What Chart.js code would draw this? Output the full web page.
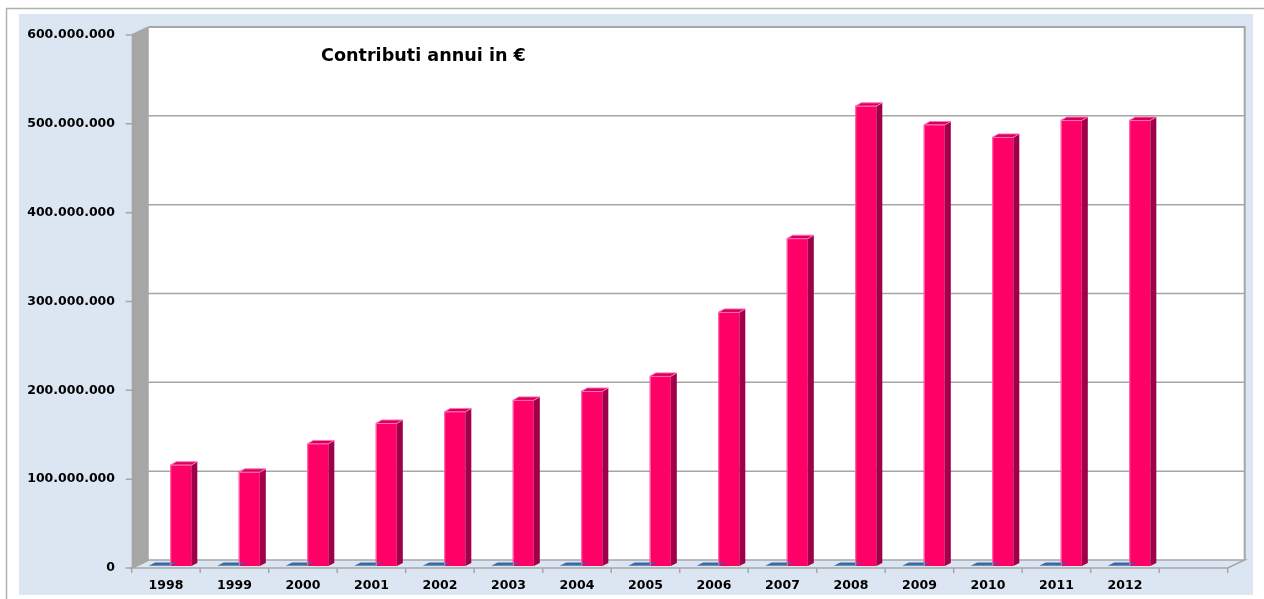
<!DOCTYPE html>
<html>
<head>
<meta charset="utf-8">
<script src="https://cdn.jsdelivr.net/npm/chart.js@4/dist/chart.umd.min.js"></script>
<style>
  html, body { margin: 0; padding: 0; background: #fff; }
  #wrap { width: 1264px; height: 599px; }
</style>
</head>
<body>
<div id="wrap"><canvas id="grafico" width="1264" height="599"></canvas></div>
<script>
// dati
const anni = ['1998', '1999', '2000', '2001', '2002', '2003', '2004', '2005', '2006', '2007', '2008', '2009', '2010', '2011', '2012', ''];
const contributi = [114e6, 106e6, 138e6, 161e6, 174e6, 187e6, 197e6, 214e6, 286e6, 369e6, 518e6, 497e6, 483e6, 502e6, 502e6, null];
const serieBlu = [0.5e6, 0.5e6, 0.5e6, 0.5e6, 0.5e6, 0.5e6, 0.5e6, 0.5e6, 0.5e6, 0.5e6, 0.5e6, 0.5e6, 0.5e6, 0.5e6, 0.5e6, null];
const tickValori = [0, 100e6, 200e6, 300e6, 400e6, 500e6, 600e6];
const titolo = 'Contributi annui in €';

// offset 3D: asse frontale e parete di fondo rispetto al piano delle barre
const FRONT = { dx: -4.3, dy: 2 };
const BACK = { dx: 12.7, dy: -6 };
const DEPTH = { dx: 6, dy: -3 };

function formatta(v) {
  return v.toString().replace(/\B(?=(\d{3})+(?!\d))/g, '.');
}

function poly(ctx, pts, fill, stroke) {
  ctx.beginPath();
  ctx.moveTo(pts[0][0], pts[0][1]);
  for (let i = 1; i < pts.length; i++) ctx.lineTo(pts[i][0], pts[i][1]);
  ctx.closePath();
  if (fill) { ctx.fillStyle = fill; ctx.fill(); }
  if (stroke) { ctx.strokeStyle = stroke; ctx.stroke(); }
}

const sfondo3d = {
  id: 'sfondo3d',
  beforeDraw(chart) {
    const ctx = chart.ctx;
    const a = chart.chartArea;
    const y = chart.scales.y;
    ctx.save();
    // pagina e cornice
    ctx.fillStyle = '#ffffff';
    ctx.fillRect(0, 0, chart.width, chart.height);
    ctx.strokeStyle = '#b0b0b0';
    ctx.lineWidth = 1.5;
    ctx.beginPath();
    ctx.moveTo(6.5, chart.height);
    ctx.lineTo(6.5, 8.5);
    ctx.lineTo(chart.width, 8.5);
    ctx.stroke();
    ctx.fillStyle = '#dce6f2';
    ctx.fillRect(19, 14, 1234, 581);

    const fl = a.left + FRONT.dx, fr = a.right + FRONT.dx;
    const bl = a.left + BACK.dx, br = a.right + BACK.dx;
    const y0 = y.getPixelForValue(0), yMax = y.getPixelForValue(600e6);

    // parete di fondo
    ctx.fillStyle = '#ffffff';
    ctx.fillRect(bl, yMax + BACK.dy, br - bl, y0 - yMax);
    ctx.lineWidth = 2;
    ctx.strokeStyle = '#a6a6a6';
    ctx.beginPath();
    ctx.moveTo(bl, yMax + BACK.dy);
    ctx.lineTo(br, yMax + BACK.dy);
    ctx.lineTo(br, y0 + BACK.dy);
    ctx.stroke();

    // parete sinistra
    poly(ctx, [[fl, yMax + FRONT.dy], [bl, yMax + BACK.dy], [bl, y0 + BACK.dy], [fl, y0 + FRONT.dy]], '#a6a6a6', null);

    // pavimento
    ctx.lineWidth = 1.5;
    poly(ctx, [[fl, y0 + FRONT.dy], [fr, y0 + FRONT.dy], [br, y0 + BACK.dy], [bl, y0 + BACK.dy]], '#dce6f2', '#a6a6a6');

    // griglia
    ctx.lineWidth = 1.5;
    ctx.strokeStyle = '#a6a6a6';
    tickValori.forEach(v => {
      const py = y.getPixelForValue(v);
      ctx.beginPath();
      ctx.moveTo(fl - 6, py + FRONT.dy);
      ctx.lineTo(fl, py + FRONT.dy);
      ctx.lineTo(bl, py + BACK.dy);
      if (v > 0 && v < 600e6) ctx.lineTo(br, py + BACK.dy);
      ctx.stroke();
    });

    // tacche asse x
    const passo = (a.right - a.left) / anni.length;
    ctx.beginPath();
    for (let i = 0; i <= anni.length; i++) {
      const px = a.left + i * passo + FRONT.dx;
      ctx.moveTo(px, y0 + FRONT.dy);
      ctx.lineTo(px, y0 + FRONT.dy + 5);
    }
    ctx.stroke();

    // titolo
    ctx.fillStyle = '#000000';
    ctx.font = 'bold 17.6px "DejaVu Sans"';
    ctx.textBaseline = 'middle';
    ctx.textAlign = 'left';
    ctx.fillText(titolo, 321, 56);
    ctx.restore();
  },
  afterDatasetsDraw(chart) {
    const ctx = chart.ctx;
    ctx.save();
    const colori = [
      { top: '#3a6aa3', side: '#2d5585', edge: null },
      { top: '#d8005a', side: '#a0004a', edge: '#ff70b8' }
    ];
    chart.data.datasets.forEach((ds, di) => {
      const meta = chart.getDatasetMeta(di);
      const c = colori[di];
      meta.data.forEach((bar, i) => {
        if (ds.data[i] == null) return;
        const p = bar.getProps(['x', 'y', 'base', 'width'], true);
        const l = p.x - p.width / 2, r = p.x + p.width / 2;
        poly(ctx, [[r, p.y], [r + DEPTH.dx, p.y + DEPTH.dy], [r + DEPTH.dx, p.base + DEPTH.dy], [r, p.base]], c.side, null);
        poly(ctx, [[l, p.y], [r, p.y], [r + DEPTH.dx, p.y + DEPTH.dy], [l + DEPTH.dx, p.y + DEPTH.dy]], c.top, null);
        if (c.edge) {
          ctx.lineWidth = 1;
          ctx.strokeStyle = c.edge;
          ctx.beginPath();
          ctx.moveTo(l + 0.5, p.base);
          ctx.lineTo(l + 0.5, p.y + 0.5);
          ctx.lineTo(r, p.y + 0.5);
          ctx.lineTo(r + DEPTH.dx, p.y + DEPTH.dy);
          ctx.lineTo(l + DEPTH.dx, p.y + DEPTH.dy);
          ctx.lineTo(l + 0.5, p.y + 0.5);
          ctx.stroke();
        }
      });
    });
    ctx.restore();
  }
};

new Chart(document.getElementById('grafico'), {
  type: 'bar',
  data: {
    labels: anni,
    datasets: [
      {
        label: 'Serie 1',
        data: serieBlu,
        backgroundColor: '#4f81bd',
        barPercentage: 1,
        categoryPercentage: 0.615
      },
      {
        label: 'Contributi annui in €',
        data: contributi,
        backgroundColor: '#ff0066',
        barPercentage: 1,
        categoryPercentage: 0.615
      }
    ]
  },
  options: {
    responsive: false,
    animation: false,
    events: [],
    layout: {
      padding: { left: 0, top: 33, right: 32, bottom: 0 }
    },
    plugins: {
      legend: { display: false },
      tooltip: { enabled: false }
    },
    scales: {
      x: {
        grid: { display: false, drawTicks: false },
        border: { display: false },
        afterFit: (s) => { s.height = 33; },
        ticks: {
          padding: 12,
          labelOffset: FRONT.dx,
          maxRotation: 0,
          autoSkip: false,
          color: '#000000',
          font: { family: 'DejaVu Sans', size: 12.5, weight: 'bold' }
        }
      },
      y: {
        min: 0,
        max: 600e6,
        grid: { display: false, drawTicks: false },
        border: { display: false },
        afterFit: (s) => { s.width = 136; },
        afterBuildTicks: (s) => { s.ticks = tickValori.map(v => ({ value: v })); },
        ticks: {
          padding: 21,
          labelOffset: FRONT.dy,
          color: '#000000',
          font: { family: 'DejaVu Sans', size: 12.5, weight: 'bold' },
          callback: (v) => formatta(v)
        }
      }
    }
  },
  plugins: [sfondo3d]
});
</script>
</body>
</html>
